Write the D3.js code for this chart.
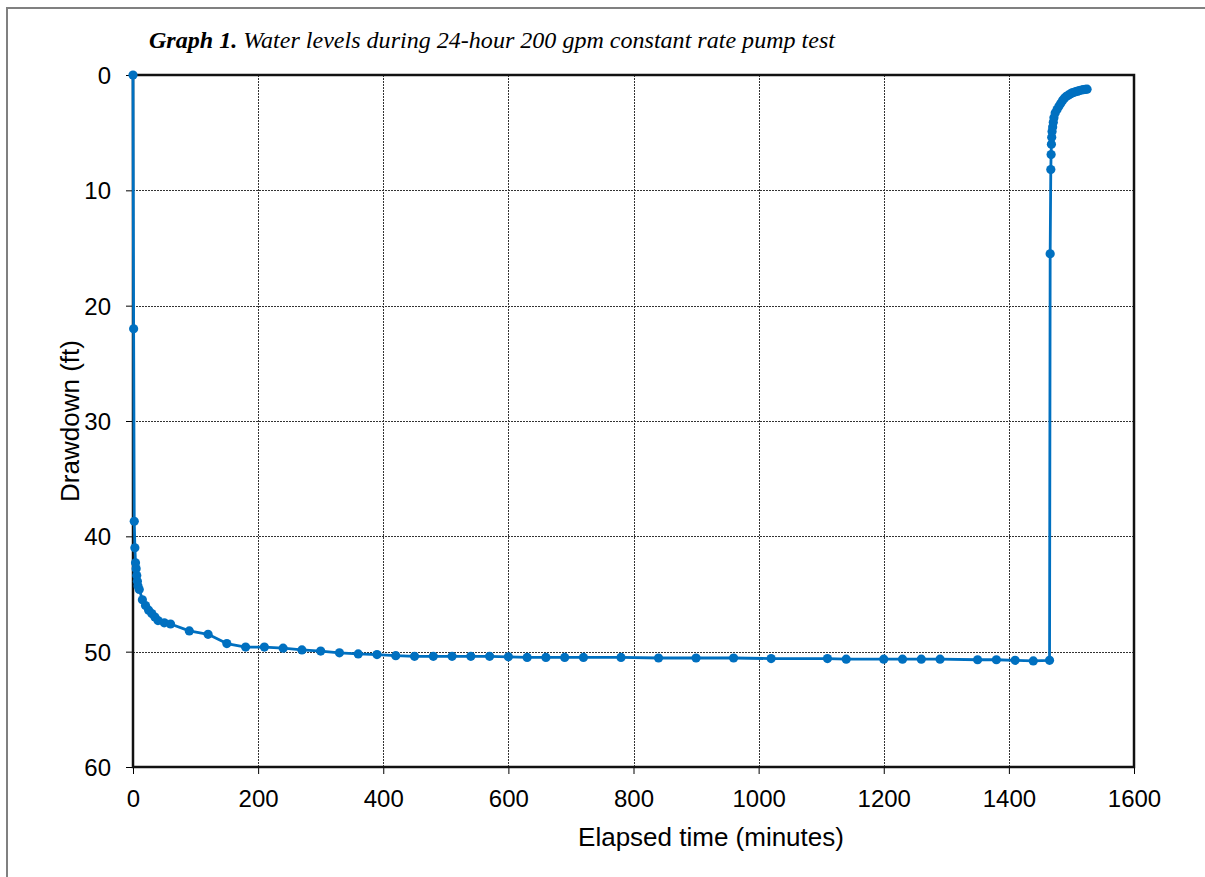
<!DOCTYPE html>
<html><head><meta charset="utf-8">
<script src="https://cdn.jsdelivr.net/npm/d3@7"></script>
<style>body{margin:0;background:#fff;}svg{display:block;}</style>
</head><body>
<svg id="c" width="1205" height="877"></svg>
<script>
const elapsedMinutes = [0,1,2,3,4,5,6,7,8,10,15,20,25,30,35,40,50,60,90,120,150,180,210,240,270,300,330,360,390,420,450,480,510,540,570,600,630,660,690,720,780,840,900,960,1020,1110,1140,1200,1230,1260,1290,1350,1380,1410,1439,1465,
  1466,1467,1467.5,1468,1468.5,1469,1470,1471,1472,1474,1477,1480,1483,1486,1489,1492,1495,1498,1501,1504,1507,1510,1513,1516,1519,1522,1525];
const drawdownFt = [0,22,38.7,41.0,42.3,42.8,43.4,43.9,44.3,44.6,45.5,46.0,46.4,46.7,47.0,47.3,47.5,47.6,48.2,48.5,49.3,49.6,49.6,49.7,49.85,49.95,50.1,50.2,50.25,50.35,50.4,50.4,50.4,50.4,50.4,50.45,50.5,50.5,50.5,50.5,50.5,50.55,50.55,50.55,50.6,50.6,50.65,50.65,50.65,50.65,50.65,50.7,50.7,50.75,50.8,50.75,
  15.5,8.2,6.9,6.0,5.4,4.9,4.5,4.1,3.7,3.3,3.0,2.7,2.45,2.2,2.0,1.85,1.75,1.65,1.55,1.5,1.45,1.4,1.35,1.3,1.27,1.25,1.23];
const xTicks = [0,200,400,600,800,1000,1200,1400,1600];
const yTicks = [0,10,20,30,40,50,60];
const titleBold = "Graph 1.";
const titleRest = " Water levels during 24-hour 200 gpm constant rate pump test";
const xLabel = "Elapsed time (minutes)";
const yLabel = "Drawdown (ft)";

const svg = d3.select("#c");
const m = {l:133, r:1134, t:75, b:767};
const x = d3.scaleLinear().domain([0,1600]).range([m.l, m.r]);
const y = d3.scaleLinear().domain([0,60]).range([m.t, m.b]);
const data = elapsedMinutes.map((t,i)=>({t, d: drawdownFt[i]}));

// outer border (top & left)
svg.append("path").attr("d","M7,877 V8 H1205").attr("fill","none").attr("stroke","#808080").attr("stroke-width",2);

// gridlines
const grid = svg.append("g").attr("stroke","#333").attr("stroke-width",1).attr("stroke-dasharray","2,1");
xTicks.slice(1,-1).forEach(v=>grid.append("line").attr("x1",Math.round(x(v))+0.5).attr("x2",Math.round(x(v))+0.5).attr("y1",m.t).attr("y2",m.b));
yTicks.slice(1,-1).forEach(v=>grid.append("line").attr("y1",Math.round(y(v))+0.5).attr("y2",Math.round(y(v))+0.5).attr("x1",m.l).attr("x2",m.r));

// axes
const font = "Liberation Sans, Arial, sans-serif";
const xAxis = svg.append("g").attr("transform",`translate(0,${m.b})`)
  .call(d3.axisBottom(x).tickValues(xTicks).tickSize(7).tickPadding(16).tickFormat(d3.format("d")));
const yAxis = svg.append("g").attr("transform",`translate(${m.l},0)`)
  .call(d3.axisLeft(y).tickValues(yTicks).tickSize(7).tickPadding(15).tickFormat(d3.format("d")));
[xAxis,yAxis].forEach(a=>{
  a.select(".domain").remove();
  a.selectAll("line").attr("stroke","#000").attr("stroke-width",1);
  a.selectAll("text").attr("font-family",font).attr("font-size",24).attr("fill","#000");
});
yAxis.selectAll("text").attr("dy","0.36em");

// plot frame
svg.append("rect").attr("x",m.l).attr("y",m.t).attr("width",m.r-m.l).attr("height",m.b-m.t)
  .attr("fill","none").attr("stroke","#111").attr("stroke-width",2.5);

// series
const line = d3.line().x(d=>x(d.t)).y(d=>y(d.d));
svg.append("path").datum(data).attr("d",line).attr("fill","none").attr("stroke","#0070C0").attr("stroke-width",2.8).attr("stroke-linejoin","round");
svg.append("g").selectAll("circle").data(data).join("circle")
  .attr("cx",d=>x(d.t)).attr("cy",d=>y(d.d)).attr("r",4.6).attr("fill","#0070C0");

// axis titles
svg.append("text").attr("x",711).attr("y",846).attr("text-anchor","middle")
  .attr("font-family",font).attr("font-size",26).text(xLabel);
svg.append("text").attr("transform",`translate(79,421) rotate(-90)`).attr("text-anchor","middle")
  .attr("font-family",font).attr("font-size",26).text(yLabel);

// title
const tt = svg.append("text").attr("x",149).attr("y",48).attr("font-family","Liberation Serif, Times New Roman, serif")
  .attr("font-size",23).attr("font-style","italic").attr("textLength",686).attr("lengthAdjust","spacingAndGlyphs");
tt.append("tspan").attr("font-weight","bold").text(titleBold);
tt.append("tspan").text(titleRest);
</script>
</body></html>
